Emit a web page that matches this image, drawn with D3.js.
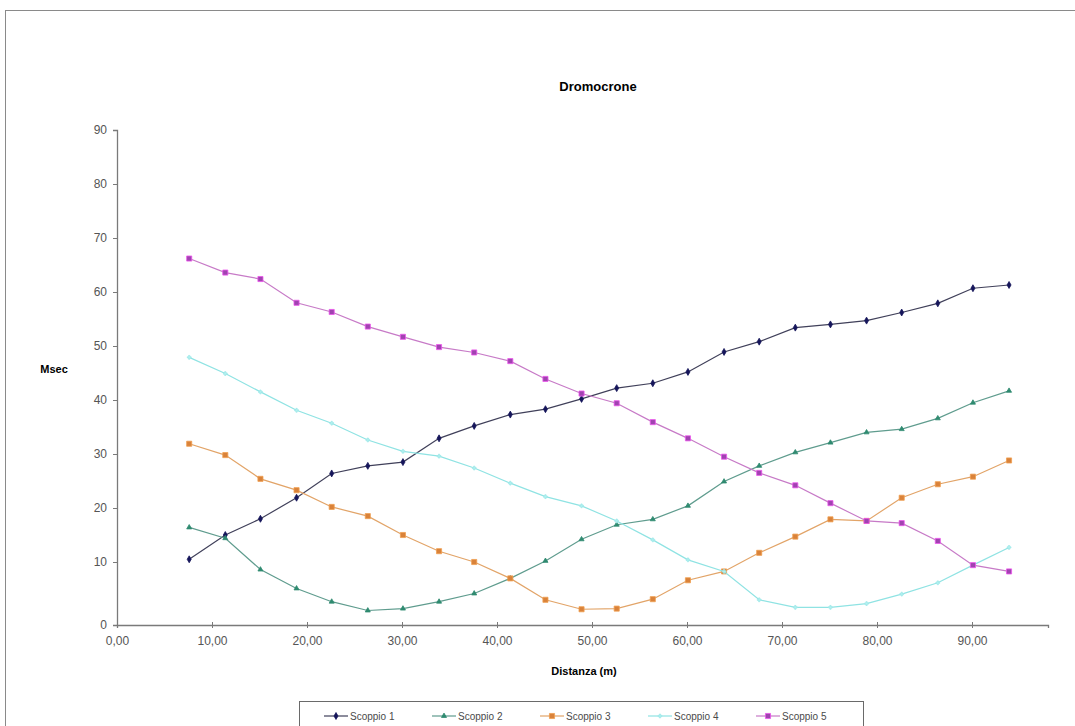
<!DOCTYPE html>
<html>
<head>
<meta charset="utf-8">
<script src="https://cdn.jsdelivr.net/npm/d3@7"></script>
<style>
  body { margin: 0; background: #fff; }
  svg { display: block; font-family: Arial, "Liberation Sans", sans-serif; }
</style>
</head>
<body>
<svg id="chart" width="1075" height="726"></svg>
<script>
const svg = d3.select('#chart')

// data
const distanze = [7.6, 11.4, 15.1, 18.9, 22.6, 26.4, 30.1, 33.9, 37.6, 41.4, 45.1, 48.9, 52.6, 56.4, 60.1, 63.9, 67.6, 71.4, 75.1, 78.9, 82.6, 86.4, 90.1, 93.9]
const scoppio1 = [10.5, 15.0, 18.0, 21.9, 26.4, 27.8, 28.5, 32.9, 35.2, 37.3, 38.3, 40.2, 42.2, 43.1, 45.2, 48.9, 50.8, 53.4, 54.0, 54.7, 56.2, 57.9, 60.7, 61.3]
const scoppio2 = [16.4, 14.4, 8.8, 5.8, 3.7, 2.3, 2.6, 3.7, 5.0, 7.4, 10.2, 14.2, 16.9, 17.9, 20.4, 24.9, 27.8, 30.3, 32.1, 34.0, 34.6, 36.6, 39.5, 41.7]
const scoppio3 = [31.9, 29.8, 25.4, 23.3, 20.2, 18.5, 15.0, 12.0, 10.0, 7.4, 4.0, 2.5, 2.6, 4.1, 7.1, 8.5, 11.7, 14.7, 17.9, 17.6, 21.9, 24.4, 25.8, 28.8]
const scoppio4 = [47.9, 44.9, 41.5, 38.1, 35.7, 32.6, 30.5, 29.6, 27.4, 24.6, 22.1, 20.4, 17.6, 14.1, 10.4, 8.5, 4.0, 2.8, 2.8, 3.4, 4.9, 6.7, 9.5, 12.7]
const scoppio5 = [66.2, 63.6, 62.4, 58.0, 56.3, 53.6, 51.7, 49.8, 48.8, 47.2, 43.9, 41.2, 39.4, 35.9, 32.9, 29.5, 26.5, 24.2, 20.9, 17.6, 17.2, 13.9, 9.5, 8.5]
const seriesNames = ['Scoppio 1', 'Scoppio 2', 'Scoppio 3', 'Scoppio 4', 'Scoppio 5']
const xTicks = [0, 10, 20, 30, 40, 50, 60, 70, 80, 90]
const yTicks = [0, 10, 20, 30, 40, 50, 60, 70, 80, 90]

// look of each series
const styles = [
  { line: '#40405a', fill: '#15155a', stroke: '#15155a', shape: d3.symbolDiamond, size: 14 },
  { line: '#5f9c8e', fill: '#2f8a70', stroke: '#2f8a70', shape: d3.symbolTriangle, size: 11 },
  { line: '#e2a468', fill: '#d9823a', stroke: '#f0a050', shape: d3.symbolSquare, size: 26 },
  { line: '#8fe3e3', fill: '#b5f2f2', stroke: '#9ee8e8', shape: d3.symbolCross, size: 8 },
  { line: '#c77ac7', fill: '#a043b0', stroke: '#ee55ee', shape: d3.symbolSquare, size: 26 }
]

const series = [scoppio1, scoppio2, scoppio3, scoppio4, scoppio5].map((vals, i) => ({
  name: seriesNames[i],
  style: styles[i],
  points: vals.map((v, j) => ({ x: distanze[j], y: v }))
}))

// chart frame
svg.append('rect')
  .attr('x', 5.5).attr('y', 10.5)
  .attr('width', 1200).attr('height', 800)
  .attr('fill', 'none')
  .attr('stroke', '#8a8a8a')

const xScale = d3.scaleLinear()
  .domain([0, 98])
  .range([117, 1048])

// the picture's y axis has a wider step between 0 and 10
const yScale = d3.scaleLinear()
  .domain([0, 10, 90])
  .range([625, 562, 130])

// title
svg.append('text')
  .attr('x', 598).attr('y', 91)
  .attr('text-anchor', 'middle')
  .style('font-size', '13px')
  .style('font-weight', 'bold')
  .text('Dromocrone')

// y axis
const yAxis = d3.axisLeft(yScale)
  .tickValues(yTicks)
  .tickSize(4)
  .tickPadding(6)
  .tickFormat(d3.format('d'))

const gy = svg.append('g')
  .attr('transform', 'translate(117,0)')
  .call(yAxis)

// x axis
const xAxis = d3.axisBottom(xScale)
  .tickValues(xTicks)
  .tickSize(3)
  .tickPadding(8)
  .tickFormat(d => d3.format('.2f')(d).replace('.', ','))

const gx = svg.append('g')
  .attr('transform', 'translate(0,625)')
  .call(xAxis)

gx.selectAll('.tick line').attr('y1', -3)

svg.selectAll('.domain').attr('stroke', '#7a7a7a').attr('stroke-width', 1.3)
svg.selectAll('.tick line').attr('stroke', '#7a7a7a')
svg.selectAll('.tick text')
  .attr('fill', '#555')
  .style('font-size', '12px')

// axis titles
svg.append('text')
  .attr('x', 54).attr('y', 373)
  .attr('text-anchor', 'middle')
  .style('font-size', '11px')
  .style('font-weight', 'bold')
  .text('Msec')

svg.append('text')
  .attr('x', 584).attr('y', 675)
  .attr('text-anchor', 'middle')
  .style('font-size', '11px')
  .style('font-weight', 'bold')
  .text('Distanza (m)')

// lines and markers
const line = d3.line()
  .x(d => xScale(d.x))
  .y(d => yScale(d.y))

const groups = svg.selectAll('g.serie')
  .data(series)
  .enter()
  .append('g')
  .attr('class', 'serie')

groups.append('path')
  .attr('d', d => line(d.points))
  .attr('fill', 'none')
  .attr('stroke', d => d.style.line)
  .attr('stroke-width', 1.2)

groups.each(function (s) {
  d3.select(this).selectAll('path.marker')
    .data(s.points)
    .enter()
    .append('path')
    .attr('class', 'marker')
    .attr('transform', d => `translate(${xScale(d.x)},${yScale(d.y)})`)
    .attr('d', d3.symbol().type(s.style.shape).size(s.style.size))
    .attr('fill', s.style.fill)
    .attr('stroke', s.style.stroke)
    .attr('stroke-width', 0.8)
})

// legend
const legend = svg.append('g')

legend.append('rect')
  .attr('x', 299.5).attr('y', 701.5)
  .attr('width', 564).attr('height', 40)
  .attr('fill', '#fff')
  .attr('stroke', '#6a6a6a')

const items = legend.selectAll('g.item')
  .data(series)
  .enter()
  .append('g')
  .attr('class', 'item')
  .attr('transform', (d, i) => `translate(${324 + i * 108},716)`)

items.append('line')
  .attr('x1', 0).attr('x2', 24)
  .attr('stroke', d => d.style.line)
  .attr('stroke-width', 1.2)

items.append('path')
  .attr('transform', 'translate(12,0)')
  .attr('d', d => d3.symbol().type(d.style.shape).size(d.style.size)())
  .attr('fill', d => d.style.fill)
  .attr('stroke', d => d.style.stroke)
  .attr('stroke-width', 0.8)

items.append('text')
  .attr('x', 26).attr('y', 0)
  .attr('dy', '0.35em')
  .attr('fill', '#4a4a4a')
  .style('font-size', '10px')
  .text(d => d.name)
</script>
</body>
</html>
